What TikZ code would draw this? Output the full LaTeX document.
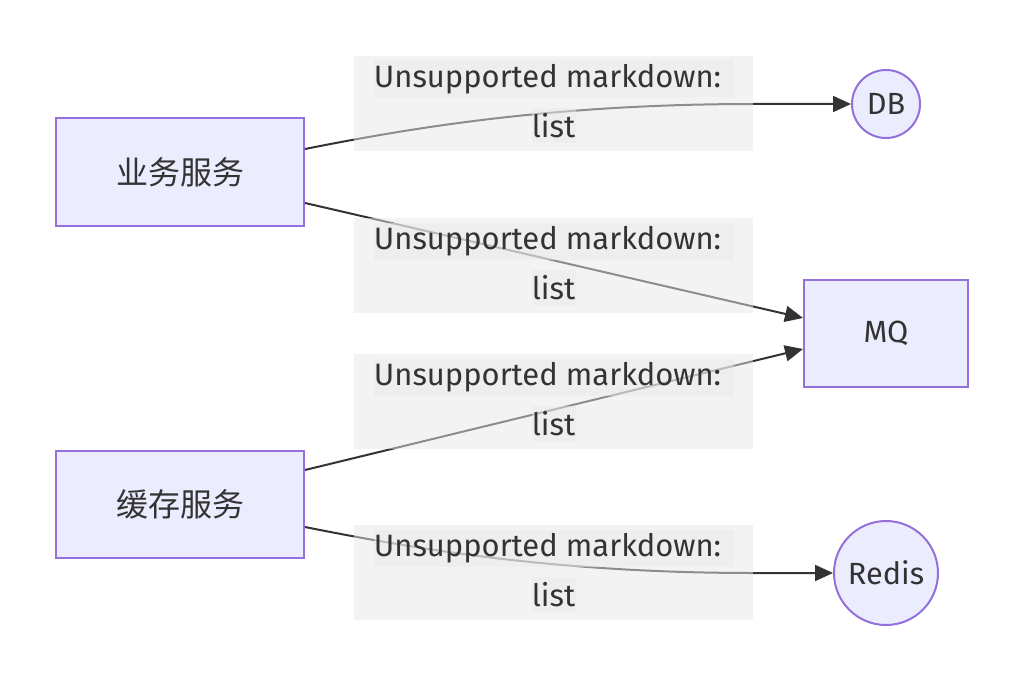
\documentclass[tikz,border=0pt]{standalone}
\usepackage{fontspec}
\setmainfont{Fira Sans}
\newfontfamily\cjk{Noto Sans CJK SC}
\usetikzlibrary{arrows.meta,calc}
\definecolor{nodefill}{HTML}{ECECFF}
\definecolor{nodeline}{HTML}{9370DB}
\definecolor{txt}{HTML}{333333}
\definecolor{lblbg}{HTML}{E8E8E8}
\begin{document}
\begin{tikzpicture}[x=0.75pt,y=-0.75pt,
  box/.style={draw=nodeline,fill=nodefill,line width=1.5pt,text=txt,font=\fontsize{23}{28}\selectfont},
  circ/.style={circle,draw=nodeline,fill=nodefill,line width=1.5pt,text=txt,inner sep=0pt,font=\fontsize{23}{28}\selectfont},
  lbl/.style={fill=lblbg,fill opacity=0.5,text opacity=1,minimum width=299.25pt,minimum height=71.25pt,inner sep=0pt},
  lblline/.style={fill=lblbg,fill opacity=0.5,text opacity=1,text=txt,inner sep=0pt,font=\fontsize{23.2}{27}\selectfont},
  conn/.style={draw=txt,line width=1.5pt,-{Triangle[length=13.5pt,width=12pt]}}
]
\useasboundingbox (0,0) rectangle (1024,681);
% nodes
\node[box,minimum width=186pt,minimum height=81pt,font=\cjk\fontsize{24}{28}\selectfont] (biz) at (180,172) {业务服务};
\node[box,minimum width=186pt,minimum height=80.25pt,font=\cjk\fontsize{24}{28}\selectfont] (cache) at (180,504.5) {缓存服务};
\node[box,minimum width=123pt,minimum height=80.25pt] (mq) at (886,333.5) {MQ};
\node[circ,minimum size=51pt] (db) at (886,104) {DB};
\node[circ,minimum size=78pt] (redis) at (886,573) {Redis};
% edges
\coordinate (e1) at (754,104);
\coordinate (e4) at (754,573);
\draw[conn] ($(biz.east)+(0,-23)$) .. controls (420,126) and (560,104) .. (e1) -- (db.west);
\draw[conn] ($(biz.east)+(0,31)$) -- ($(mq.west)+(0,-15.5)$);
\draw[conn] ($(cache.east)+(0,-34.5)$) -- ($(mq.west)+(0,15.5)$);
\draw[conn] ($(cache.east)+(0,22.5)$) .. controls (420,550) and (560,573) .. (e4) -- (redis.west);
% labels
\foreach \n/\y in {l1/103.5,l2/265.5,l3/401.5,l4/572.5}{
  \node[lbl] (\n) at (553.5,\y) {};
  \node[lblline,minimum width=270pt,minimum height=27.75pt] (\n a) at ($(\n)+(0,-24.5)$) {Unsupported markdown:\hspace*{9pt}};
  \node[lblline,minimum width=33pt,minimum height=26.25pt] (\n b) at ($(\n)+(0,22)$) {list};
}
\end{tikzpicture}
\end{document}
